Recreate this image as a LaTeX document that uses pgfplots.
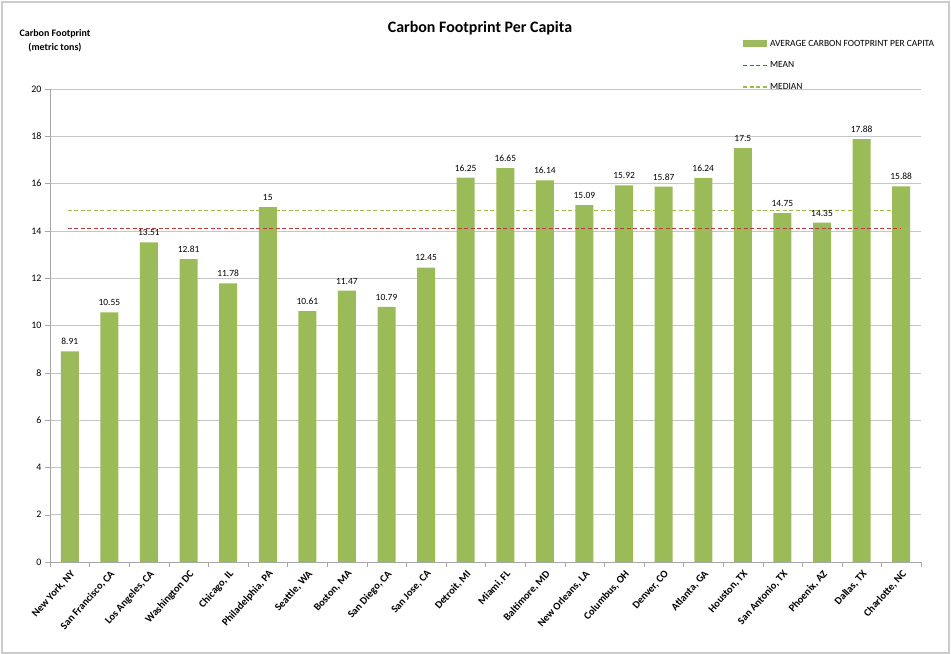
\documentclass[border=0pt]{standalone}
\usepackage{fontspec}
\setmainfont{Carlito}
\usepackage{pgfplots}
\pgfplotsset{compat=1.18}
\definecolor{bargreen}{HTML}{9BBB59}
\definecolor{meanred}{HTML}{B83A3A}
\definecolor{medgreen}{HTML}{9DBA4E}
\begin{document}
\begin{tikzpicture}
\useasboundingbox (0,0) rectangle (951bp,654bp);
\draw[gray!40, line width=1.2bp] (2bp,1bp) rectangle (949bp,652bp);
\node[font=\bfseries\fontsize{16}{18}\selectfont] at (480bp,626bp) {Carbon Footprint Per Capita};
\node[font=\bfseries\fontsize{10}{14}\selectfont, align=center] at (55bp,613bp) {Carbon Footprint\\(metric tons)};
\begin{axis}[
  at={(50bp,92bp)}, anchor=south west,
  scale only axis, width=871bp, height=473bp,
  xmin=-0.5, xmax=21.5, ymin=0, ymax=20,
  ytick={0,2,...,20},
  xtick={0,...,21},
  xticklabels={{New York, NY},{San Francisco, CA},{Los Angeles, CA},{Washington DC},{Chicago, IL},{Philadelphia, PA},{Seattle, WA},{Boston, MA},{San Diego, CA},{San Jose, CA},{Detroit, MI},{Miami, FL},{Baltimore, MD},{New Orleans, LA},{Columbus, OH},{Denver, CO},{Atlanta, GA},{Houston, TX},{San Antonio, TX},{Phoenix, AZ},{Dallas, TX},{Charlotte, NC}},
  minor xtick={-0.5,0.5,...,21.5},
  axis x line=bottom, axis y line=left,
  axis line style={-, draw=gray!70},
  tick align=outside,
  major x tick style={draw=none},
  minor x tick style={draw=gray!70},
  major y tick style={draw=gray!70},
  major tick length=5bp, minor tick length=5bp,
  ymajorgrids=true,
  grid style={gray!45, line width=0.5bp},
  xticklabel style={rotate=48, anchor=north east, inner sep=1.5bp, font=\bfseries\fontsize{10.5}{12}\selectfont},
  yticklabel style={font=\fontsize{10}{12}\selectfont},
  /pgf/number format/assume math mode=true,
  legend style={at={(0.795,1.108)}, anchor=north west, draw=none, fill=none,
     font=\fontsize{9.5}{11}\selectfont, row sep=10bp, inner sep=0pt},
  legend cell align=left,
]
\addplot[medgreen, line width=1.4bp, dash pattern=on 4bp off 2.5bp, forget plot]
coordinates {(-0.05,14.875) (21.0,14.875)};
\addplot[ybar, bar width=18bp, fill=bargreen, draw=none,
  nodes near coords,
  nodes near coords style={font=\fontsize{9.5}{11}\selectfont, yshift=3bp, /pgf/number format/assume math mode=true},
  legend image code/.code={\fill[bargreen] (0bp,-3.5bp) rectangle (24bp,3.5bp);}]
coordinates {(0,8.91) (1,10.55) (2,13.51) (3,12.81) (4,11.78) (5,15) (6,10.61) (7,11.47) (8,10.79) (9,12.45) (10,16.25) (11,16.65) (12,16.14) (13,15.09) (14,15.92) (15,15.87) (16,16.24) (17,17.5) (18,14.75) (19,14.35) (20,17.88) (21,15.88)};
\addlegendentry{AVERAGE CARBON FOOTPRINT PER CAPITA}
\addplot[meanred, line width=1.4bp, dash pattern=on 4bp off 2.5bp,
  legend image code/.code={\draw[meanred, line width=1.4bp, dash pattern=on 4bp off 2.5bp] (0bp,0bp) -- (24bp,0bp);}]
coordinates {(-0.05,14.11) (21.0,14.11)};
\addlegendentry{MEAN}
\addlegendimage{legend image code/.code={\draw[medgreen, line width=1.4bp, dash pattern=on 4bp off 2.5bp] (0bp,0bp) -- (24bp,0bp);}}
\addlegendentry{MEDIAN}
\end{axis}
\end{tikzpicture}
\end{document}
